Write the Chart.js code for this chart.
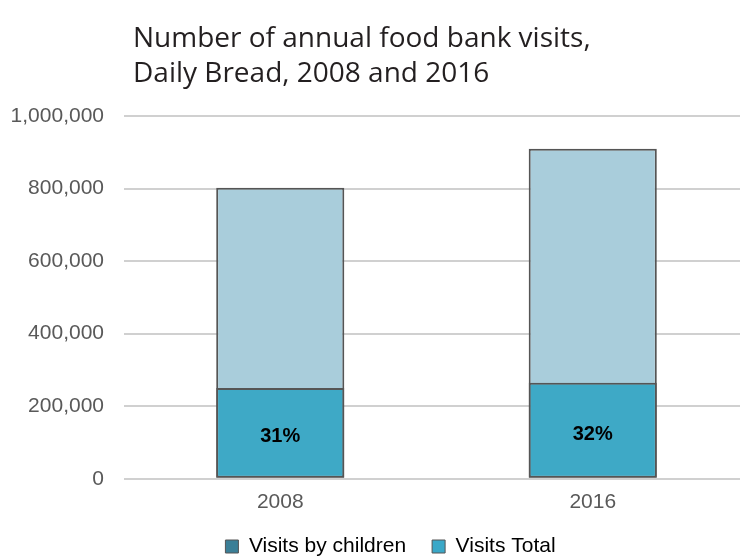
<!DOCTYPE html>
<html>
<head>
<meta charset="utf-8">
<script src="https://cdn.jsdelivr.net/npm/chart.js@4"></script>
<style>
  html, body { margin: 0; padding: 0; background: #fff; }
  body { width: 740px; height: 556px; overflow: hidden; position: relative; }
  #wrap { position: absolute; left: 0; top: 0; width: 760px; height: 582px; }
  #title {
    position: absolute; left: 133px; top: 19px;
    font-family: "Open Sans", sans-serif; font-size: 28px; line-height: 35px;
    color: #231f20; white-space: nowrap;
  }
</style>
</head>
<body>
<div id="wrap"><canvas id="chart" width="760" height="582"></canvas></div>
<div id="title">Number of annual food bank visits,<br>Daily Bread, 2008 and 2016</div>
<script>
'use strict';

const years = ['2008', '2016'];
const childVisits = [250000, 265000];
const totalVisits = [802000, 910000];
const childShare = ['31%', '32%'];
const yTicks = [0, 200000, 400000, 600000, 800000, 1000000];

const axisFont = { family: '"Liberation Sans", Arial, sans-serif', size: 21 };
const greyText = '#595959';
const edge = '#555555';

// writes the share of children inside the lower bar
const shareLabels = {
    id: 'shareLabels',
    afterDatasetsDraw(chart) {
        const meta = chart.getDatasetMeta(0);
        const ctx = chart.ctx;
        ctx.save();
        ctx.font = 'bold 20px "Liberation Sans", Arial, sans-serif';
        ctx.fillStyle = '#000';
        ctx.textAlign = 'center';
        ctx.textBaseline = 'middle';
        meta.data.forEach((bar, i) => {
            ctx.fillText(childShare[i], bar.x, (bar.y + bar.base) / 2 + 4);
        });
        ctx.restore();
    }
};

// pull the legend up closer to the year labels and centre it under the bars
const legendNudge = {
    id: 'legendNudge',
    afterLayout(chart) {
        const lg = chart.legend;
        lg.top -= 8;
        lg.bottom -= 8;
        lg.left += 16;
        lg.right += 16;
    }
};

const chart = new Chart(document.getElementById('chart'), {
    type: 'bar',
    data: {
        labels: years,
        datasets: [
            {
                label: 'Visits by children',
                data: childVisits,
                backgroundColor: '#3ea9c6',
                borderColor: edge,
                borderWidth: 2,
                borderSkipped: false,
                order: 0
            },
            {
                label: 'Visits Total',
                data: totalVisits,
                backgroundColor: '#a9cddb',
                borderColor: edge,
                borderWidth: 2,
                borderSkipped: false,
                order: 1
            }
        ]
    },
    options: {
        responsive: false,
        animation: false,
        layout: { padding: { left: 0, right: 11, top: 116, bottom: 7 } },
        datasets: { bar: { barPercentage: 0.41, categoryPercentage: 1 } },
        scales: {
            x: {
                stacked: true,
                grid: { display: false },
                border: { display: false },
                ticks: { color: greyText, font: axisFont, padding: 3 }
            },
            y: {
                stacked: false,
                min: 0,
                max: 1000000,
                afterFit: (scale) => { scale.width = 124; },
                afterBuildTicks: (scale) => { scale.ticks = yTicks.map(v => ({ value: v })); },
                grid: { color: '#d0d0d0', lineWidth: 2, drawTicks: false },
                border: { display: false },
                ticks: {
                    color: greyText,
                    font: axisFont,
                    padding: 20,
                    callback: (v) => v.toLocaleString('en-US')
                }
            }
        },
        plugins: {
            tooltip: { enabled: false },
            legend: {
                position: 'bottom',
                labels: {
                    color: greyText,
                    font: axisFont,
                    boxWidth: 13,
                    boxHeight: 13,
                    padding: 26,
                    generateLabels: () => [
                        { text: 'Visits by children', fillStyle: '#3b7f97', strokeStyle: edge, lineWidth: 1, datasetIndex: 0 },
                        { text: 'Visits Total', fillStyle: '#3aa8c8', strokeStyle: edge, lineWidth: 1, datasetIndex: 1 }
                    ]
                }
            }
        }
    },
    plugins: [shareLabels, legendNudge]
});
</script>
</body>
</html>
